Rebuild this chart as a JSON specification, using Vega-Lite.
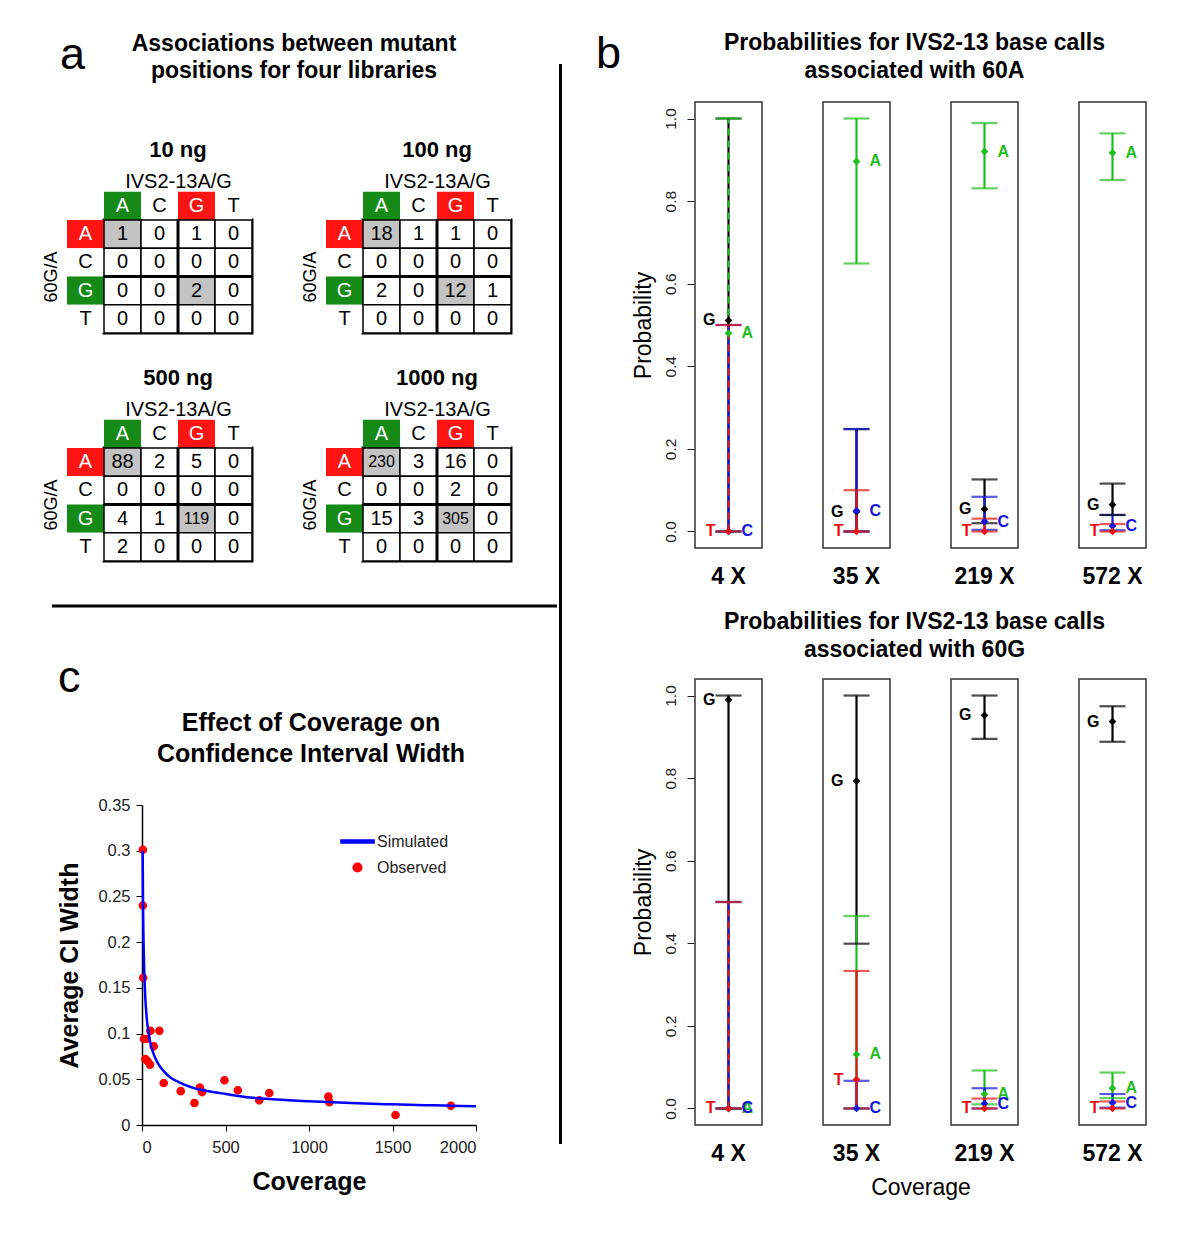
{
"$schema":"https://vega.github.io/schema/vega-lite/v6.json",
"background":"white",
"padding":{"left":40,"top":31,"right":10,"bottom":10},
"config":{
 "font":"Liberation Sans",
 "view":{"stroke":null},
 "axis":{"grid":false,"labelColor":"#222222","titleColor":"black","domainColor":"black","tickColor":"black","labelFont":"Liberation Sans","titleFont":"Liberation Sans"},
 "header":{"labelFont":"Liberation Sans","titleFont":"Liberation Sans","labelColor":"black","titleColor":"black"},
 "title":{"font":"Liberation Sans","color":"black"},
 "legend":{"labelFont":"Liberation Sans","labelColor":"#222222"},
 "text":{"font":"Liberation Sans"}
},
"datasets":{
 "cells":[
  {"lib":"10 ng","row":"A","col":"A","n":1},{"lib":"10 ng","row":"A","col":"C","n":0},{"lib":"10 ng","row":"A","col":"G","n":1},{"lib":"10 ng","row":"A","col":"T","n":0},
  {"lib":"10 ng","row":"C","col":"A","n":0},{"lib":"10 ng","row":"C","col":"C","n":0},{"lib":"10 ng","row":"C","col":"G","n":0},{"lib":"10 ng","row":"C","col":"T","n":0},
  {"lib":"10 ng","row":"G","col":"A","n":0},{"lib":"10 ng","row":"G","col":"C","n":0},{"lib":"10 ng","row":"G","col":"G","n":2},{"lib":"10 ng","row":"G","col":"T","n":0},
  {"lib":"10 ng","row":"T","col":"A","n":0},{"lib":"10 ng","row":"T","col":"C","n":0},{"lib":"10 ng","row":"T","col":"G","n":0},{"lib":"10 ng","row":"T","col":"T","n":0},
  {"lib":"100 ng","row":"A","col":"A","n":18},{"lib":"100 ng","row":"A","col":"C","n":1},{"lib":"100 ng","row":"A","col":"G","n":1},{"lib":"100 ng","row":"A","col":"T","n":0},
  {"lib":"100 ng","row":"C","col":"A","n":0},{"lib":"100 ng","row":"C","col":"C","n":0},{"lib":"100 ng","row":"C","col":"G","n":0},{"lib":"100 ng","row":"C","col":"T","n":0},
  {"lib":"100 ng","row":"G","col":"A","n":2},{"lib":"100 ng","row":"G","col":"C","n":0},{"lib":"100 ng","row":"G","col":"G","n":12},{"lib":"100 ng","row":"G","col":"T","n":1},
  {"lib":"100 ng","row":"T","col":"A","n":0},{"lib":"100 ng","row":"T","col":"C","n":0},{"lib":"100 ng","row":"T","col":"G","n":0},{"lib":"100 ng","row":"T","col":"T","n":0},
  {"lib":"500 ng","row":"A","col":"A","n":88},{"lib":"500 ng","row":"A","col":"C","n":2},{"lib":"500 ng","row":"A","col":"G","n":5},{"lib":"500 ng","row":"A","col":"T","n":0},
  {"lib":"500 ng","row":"C","col":"A","n":0},{"lib":"500 ng","row":"C","col":"C","n":0},{"lib":"500 ng","row":"C","col":"G","n":0},{"lib":"500 ng","row":"C","col":"T","n":0},
  {"lib":"500 ng","row":"G","col":"A","n":4},{"lib":"500 ng","row":"G","col":"C","n":1},{"lib":"500 ng","row":"G","col":"G","n":119},{"lib":"500 ng","row":"G","col":"T","n":0},
  {"lib":"500 ng","row":"T","col":"A","n":2},{"lib":"500 ng","row":"T","col":"C","n":0},{"lib":"500 ng","row":"T","col":"G","n":0},{"lib":"500 ng","row":"T","col":"T","n":0},
  {"lib":"1000 ng","row":"A","col":"A","n":230},{"lib":"1000 ng","row":"A","col":"C","n":3},{"lib":"1000 ng","row":"A","col":"G","n":16},{"lib":"1000 ng","row":"A","col":"T","n":0},
  {"lib":"1000 ng","row":"C","col":"A","n":0},{"lib":"1000 ng","row":"C","col":"C","n":0},{"lib":"1000 ng","row":"C","col":"G","n":2},{"lib":"1000 ng","row":"C","col":"T","n":0},
  {"lib":"1000 ng","row":"G","col":"A","n":15},{"lib":"1000 ng","row":"G","col":"C","n":3},{"lib":"1000 ng","row":"G","col":"G","n":305},{"lib":"1000 ng","row":"G","col":"T","n":0},
  {"lib":"1000 ng","row":"T","col":"A","n":0},{"lib":"1000 ng","row":"T","col":"C","n":0},{"lib":"1000 ng","row":"T","col":"G","n":0},{"lib":"1000 ng","row":"T","col":"T","n":0}
 ],
 "probs":[
  {"set":"60A","cov":"4 X","base":"G","est":0.511,"lo":0,"hi":1},
  {"set":"60A","cov":"4 X","base":"A","est":0.48,"lo":0,"hi":1},
  {"set":"60A","cov":"4 X","base":"C","est":0,"lo":0,"hi":0.5},
  {"set":"60A","cov":"4 X","base":"T","est":0,"lo":0,"hi":0.5},
  {"set":"60A","cov":"35 X","base":"G","est":0.048,"lo":0,"hi":0.248},
  {"set":"60A","cov":"35 X","base":"A","est":0.896,"lo":0.649,"hi":1},
  {"set":"60A","cov":"35 X","base":"C","est":0.05,"lo":0,"hi":0.248},
  {"set":"60A","cov":"35 X","base":"T","est":0,"lo":0,"hi":0.1},
  {"set":"60A","cov":"219 X","base":"G","est":0.054,"lo":0.02,"hi":0.126},
  {"set":"60A","cov":"219 X","base":"A","est":0.92,"lo":0.831,"hi":0.989},
  {"set":"60A","cov":"219 X","base":"C","est":0.024,"lo":0.004,"hi":0.084},
  {"set":"60A","cov":"219 X","base":"T","est":0,"lo":0,"hi":0.031},
  {"set":"60A","cov":"572 X","base":"G","est":0.065,"lo":0.04,"hi":0.116},
  {"set":"60A","cov":"572 X","base":"A","est":0.917,"lo":0.851,"hi":0.964},
  {"set":"60A","cov":"572 X","base":"C","est":0.013,"lo":0.003,"hi":0.04},
  {"set":"60A","cov":"572 X","base":"T","est":0,"lo":0,"hi":0.018},
  {"set":"60G","cov":"4 X","base":"G","est":0.99,"lo":0,"hi":1},
  {"set":"60G","cov":"4 X","base":"A","est":0,"lo":0,"hi":0.5},
  {"set":"60G","cov":"4 X","base":"C","est":0,"lo":0,"hi":0.5},
  {"set":"60G","cov":"4 X","base":"T","est":0,"lo":0,"hi":0.5},
  {"set":"60G","cov":"35 X","base":"G","est":0.793,"lo":0.399,"hi":1},
  {"set":"60G","cov":"35 X","base":"A","est":0.131,"lo":0,"hi":0.466},
  {"set":"60G","cov":"35 X","base":"C","est":0,"lo":0,"hi":0.067},
  {"set":"60G","cov":"35 X","base":"T","est":0.07,"lo":0,"hi":0.333},
  {"set":"60G","cov":"219 X","base":"G","est":0.952,"lo":0.895,"hi":1},
  {"set":"60G","cov":"219 X","base":"A","est":0.035,"lo":0.01,"hi":0.092},
  {"set":"60G","cov":"219 X","base":"C","est":0.012,"lo":0,"hi":0.049},
  {"set":"60G","cov":"219 X","base":"T","est":0,"lo":0,"hi":0.024},
  {"set":"60G","cov":"572 X","base":"G","est":0.937,"lo":0.888,"hi":0.974},
  {"set":"60G","cov":"572 X","base":"A","est":0.049,"lo":0.025,"hi":0.087},
  {"set":"60G","cov":"572 X","base":"C","est":0.014,"lo":0.002,"hi":0.035},
  {"set":"60G","cov":"572 X","base":"T","est":0,"lo":0,"hi":0.017}
 ],
 "obs":[
  {"series":"Observed","coverage":5,"width":0.301},{"series":"Observed","coverage":5,"width":0.24},{"series":"Observed","coverage":7,"width":0.161},
  {"series":"Observed","coverage":12,"width":0.094},{"series":"Observed","coverage":26,"width":0.094},{"series":"Observed","coverage":50,"width":0.103},
  {"series":"Observed","coverage":104,"width":0.103},{"series":"Observed","coverage":70,"width":0.086},{"series":"Observed","coverage":20,"width":0.072},
  {"series":"Observed","coverage":32,"width":0.07},{"series":"Observed","coverage":48,"width":0.066},{"series":"Observed","coverage":130,"width":0.046},
  {"series":"Observed","coverage":232,"width":0.037},{"series":"Observed","coverage":314,"width":0.024},{"series":"Observed","coverage":346,"width":0.041},
  {"series":"Observed","coverage":360,"width":0.036},{"series":"Observed","coverage":494,"width":0.049},{"series":"Observed","coverage":574,"width":0.038},
  {"series":"Observed","coverage":702,"width":0.027},{"series":"Observed","coverage":762,"width":0.035},{"series":"Observed","coverage":1116,"width":0.031},
  {"series":"Observed","coverage":1122,"width":0.025},{"series":"Observed","coverage":1518,"width":0.011},{"series":"Observed","coverage":1850,"width":0.021}
 ],
 "sim":[
  {"series":"Simulated","coverage":4,"width":0.3},{"series":"Simulated","coverage":6,"width":0.245},{"series":"Simulated","coverage":8,"width":0.215},
  {"series":"Simulated","coverage":10,"width":0.195},{"series":"Simulated","coverage":13,"width":0.17},{"series":"Simulated","coverage":16,"width":0.155},
  {"series":"Simulated","coverage":20,"width":0.138},{"series":"Simulated","coverage":25,"width":0.125},{"series":"Simulated","coverage":30,"width":0.114},
  {"series":"Simulated","coverage":40,"width":0.1},{"series":"Simulated","coverage":50,"width":0.09},{"series":"Simulated","coverage":65,"width":0.08},
  {"series":"Simulated","coverage":80,"width":0.073},{"series":"Simulated","coverage":100,"width":0.066},{"series":"Simulated","coverage":130,"width":0.059},
  {"series":"Simulated","coverage":170,"width":0.052},{"series":"Simulated","coverage":220,"width":0.047},{"series":"Simulated","coverage":300,"width":0.041},
  {"series":"Simulated","coverage":400,"width":0.037},{"series":"Simulated","coverage":500,"width":0.034},{"series":"Simulated","coverage":650,"width":0.03},
  {"series":"Simulated","coverage":800,"width":0.028},{"series":"Simulated","coverage":1000,"width":0.026},{"series":"Simulated","coverage":1250,"width":0.024},
  {"series":"Simulated","coverage":1500,"width":0.0226},{"series":"Simulated","coverage":1750,"width":0.0215},{"series":"Simulated","coverage":2000,"width":0.0206}
 ]
},
"resolve":{"scale":{"color":"independent","shape":"independent","size":"independent"},"legend":{"color":"independent","shape":"independent","size":"independent"}},
"spacing":0,
"hconcat":[
 {"spacing":42,
  "resolve":{"scale":{"color":"independent","shape":"independent","size":"independent"},"legend":{"color":"independent","shape":"independent","size":"independent"}},
  "vconcat":[
  {"title":{"text":"a","orient":"left","anchor":"end","angle":0,"align":"left","baseline":"top","fontSize":45,"fontWeight":"normal","offset":19},
   "vconcat":[
    {"width":380,"height":1,
     "title":{"text":["Associations between mutant","positions for four libraries"],"fontSize":23,"fontWeight":"bold","lineHeight":27,"anchor":"middle","frame":"group","offset":6},
     "data":{"values":[{}]},
     "mark":{"type":"point","opacity":0},
     "encoding":{}}
   ]},
  {"spacing":40,
   "resolve":{"scale":{"color":"independent","shape":"independent","size":"independent"},"legend":{"color":"independent","shape":"independent","size":"independent"}},
   "vconcat":[
    {"data":{"name":"cells"},
     "facet":{"field":"lib","type":"nominal","sort":["10 ng","100 ng","500 ng","1000 ng"],"title":null,"header":{"labelFontSize":22,"labelFontWeight":"bold","labelPadding":9}},
     "columns":2,
     "spacing":{"row":29,"column":44},
     "resolve":{"axis":{"x":"independent","y":"independent"}},
     "spec":{
      "width":148,"height":113,
      "view":{"stroke":"black","strokeWidth":3},
      "layer":[
       {"transform":[{"filter":"datum.row === 'A'"}],
        "mark":{"type":"rect","yOffset":-28.25},
        "encoding":{
         "x":{"field":"col","type":"nominal","scale":{"domain":["A","C","G","T"],"paddingInner":0,"paddingOuter":0},"axis":{"orient":"top","labels":false,"ticks":false,"domain":false,"title":"IVS2-13A/G","titleFontSize":20,"titleFontWeight":"normal","titlePadding":29}},
         "y":{"field":"row","type":"nominal","scale":{"domain":["A","C","G","T"],"paddingInner":0,"paddingOuter":0},"axis":{"labels":false,"ticks":false,"domain":false,"title":"60G/A","titleFontSize":18,"titleFontWeight":"normal","titlePadding":44}},
         "color":{"condition":[{"test":"datum.col === 'A'","value":"#168A16"},{"test":"datum.col === 'G'","value":"#FF1414"}],"value":"white"}
        }},
       {"transform":[{"filter":"datum.row === 'A'"}],
        "mark":{"type":"text","yOffset":-28.25,"fontSize":20},
        "encoding":{
         "x":{"field":"col","type":"nominal"},
         "y":{"field":"row","type":"nominal"},
         "text":{"field":"col","type":"nominal"},
         "color":{"condition":{"test":"datum.col === 'A' || datum.col === 'G'","value":"white"},"value":"black"}
        }},
       {"transform":[{"filter":"datum.col === 'A'"}],
        "mark":{"type":"rect","xOffset":-37},
        "encoding":{
         "x":{"field":"col","type":"nominal"},
         "y":{"field":"row","type":"nominal"},
         "color":{"condition":[{"test":"datum.row === 'A'","value":"#FF1414"},{"test":"datum.row === 'G'","value":"#168A16"}],"value":"white"}
        }},
       {"transform":[{"filter":"datum.col === 'A'"}],
        "mark":{"type":"text","xOffset":-37,"fontSize":20},
        "encoding":{
         "x":{"field":"col","type":"nominal"},
         "y":{"field":"row","type":"nominal"},
         "text":{"field":"row","type":"nominal"},
         "color":{"condition":{"test":"datum.row === 'A' || datum.row === 'G'","value":"white"},"value":"black"}
        }},
       {"mark":{"type":"rect","stroke":"black","strokeWidth":1.5},
        "encoding":{
         "x":{"field":"col","type":"nominal"},
         "y":{"field":"row","type":"nominal"},
         "color":{"condition":{"test":"(datum.row === 'A' && datum.col === 'A') || (datum.row === 'G' && datum.col === 'G')","value":"#C3C3C3"},"value":"white"}
        }},
       {"mark":{"type":"text","color":"black"},
        "encoding":{
         "x":{"field":"col","type":"nominal"},
         "y":{"field":"row","type":"nominal"},
         "text":{"field":"n","type":"quantitative"},
         "size":{"field":"n","type":"quantitative","scale":{"type":"threshold","domain":[100],"range":[20,16]},"legend":null}
        }},
       {"transform":[{"filter":"datum.row === 'A' && datum.col === 'A'"}],
        "mark":{"type":"rule","strokeWidth":3,"color":"black"},
        "encoding":{"x":{"datum":"G","type":"nominal","bandPosition":0}}},
       {"transform":[{"filter":"datum.row === 'A' && datum.col === 'A'"}],
        "mark":{"type":"rule","strokeWidth":3,"color":"black"},
        "encoding":{"y":{"datum":"G","type":"nominal","bandPosition":0}}}
      ]
     }
    },
    {"width":453,"height":10,"data":{"values":[{}]},
     "mark":{"type":"rule","strokeWidth":3,"color":"black"},
     "encoding":{
      "x":{"datum":0,"type":"quantitative","scale":{"domain":[0,1],"rangeMin":-52},"axis":null},
      "x2":{"datum":1},
      "y":{"datum":1,"type":"quantitative","scale":{"domain":[0,1]},"axis":null}}},
    {"title":{"text":"c","anchor":"start","fontSize":45,"fontWeight":"normal","offset":10},
     "resolve":{"scale":{"color":"independent","shape":"independent","size":"independent"},"legend":{"color":"independent","shape":"independent","size":"independent"}},
     "vconcat":[
      {"title":{"text":["Effect of Coverage on","Confidence Interval Width"],"fontSize":25,"fontWeight":"bold","lineHeight":31,"anchor":"middle","frame":"group","dx":21,"offset":30},
       "width":372,"height":320,
       "layer":[
        {"data":{"name":"obs"},
         "mark":{"type":"point","filled":true,"size":1100,"opacity":1},
         "encoding":{
          "x":{"field":"coverage","type":"quantitative","scale":{"domain":[0,2000],"nice":false,"rangeMin":38},"axis":{"values":[0,500,1000,1500,2000],"format":"d","labelFontSize":16.5,"title":"Coverage","titleFontSize":25,"titleFontWeight":"bold","tickSize":6,"labelPadding":8,"titlePadding":14,"domainWidth":1.5}},
          "y":{"field":"width","type":"quantitative","scale":{"domain":[0,0.35],"nice":false},"axis":{"values":[0,0.05,0.1,0.15,0.2,0.25,0.3,0.35],"format":"~g","offset":-38,"labelFontSize":16.5,"title":"Average CI Width","titleFontSize":25,"titleFontWeight":"bold","tickSize":6,"labelPadding":6,"titlePadding":15,"domainWidth":1.5}},
          "color":{"field":"series","type":"nominal","scale":{"domain":["Simulated","Observed"],"range":["#0000FF","#FF0000"]},
           "legend":{"title":null,"orient":"none","legendX":236,"legendY":19,"padding":0,"labelFontSize":16,"symbolSize":1100,"rowPadding":-2,"labelOffset":2,"symbolOpacity":1}},
          "shape":{"field":"series","type":"nominal","scale":{"domain":["Simulated","Observed"],"range":["M-1,-0.09H1V0.09H-1Z","M0.26,0A0.26,0.26,0,1,1,-0.26,0A0.26,0.26,0,1,1,0.26,0Z"]},
           "legend":{"title":null,"orient":"none","legendX":236,"legendY":19,"padding":0,"labelFontSize":16,"symbolSize":1100,"rowPadding":-2,"labelOffset":2,"symbolOpacity":1}}
         }},
        {"data":{"name":"sim"},
         "mark":{"type":"line","strokeWidth":2.5,"interpolate":"monotone"},
         "encoding":{
          "x":{"field":"coverage","type":"quantitative"},
          "y":{"field":"width","type":"quantitative"},
          "color":{"field":"series","type":"nominal","scale":{"domain":["Simulated","Observed"],"range":["#0000FF","#FF0000"]}}
         }}
       ]}
     ]}
  ]}
 ]},
 {"spacing":33,"hconcat":[
  {"width":1,"height":1053,
   "data":{"values":[{}]},
   "mark":{"type":"rule","strokeWidth":3,"color":"black"},
   "encoding":{"y":{"datum":0,"type":"quantitative","scale":{"domain":[0,1]},"axis":null},"y2":{"datum":1.0256}}},
  {"spacing":21,"vconcat":[
   {"spacing":6,"vconcat":[
    {"title":{"text":"b","orient":"left","anchor":"end","angle":0,"align":"left","baseline":"top","fontSize":45,"fontWeight":"normal","offset":74},
     "vconcat":[
      {"width":445,"height":1,
       "title":{"text":["Probabilities for IVS2-13 base calls","associated with 60A"],"fontSize":23,"fontWeight":"bold","lineHeight":28,"anchor":"middle","frame":"group","dx":-3,"offset":6},
       "data":{"values":[{}]},
       "mark":{"type":"point","opacity":0},
       "encoding":{}}
     ]},
    {"data":{"name":"probs"},
     "transform":[{"filter":"datum.set === '60A'"}],
     "facet":{"column":{"field":"cov","type":"nominal","sort":["4 X","35 X","219 X","572 X"],"title":null,"header":{"labelOrient":"bottom","labelFontSize":23,"labelFontWeight":"bold","labelPadding":17}}},
     "spacing":{"column":59},
     "spec":{
      "width":67,"height":446,
      "view":{"stroke":"#333333","strokeWidth":1.5},
      "layer":[
       {"mark":{"type":"rule","strokeWidth":2.2},
        "encoding":{
         "y":{"field":"lo","type":"quantitative","title":"Probability","scale":{"domain":[-0.04,1.04],"nice":false,"zero":false},"axis":{"values":[0,0.2,0.4,0.6,0.8,1],"format":".1f","labelAngle":270,"labelAlign":"center","labelBaseline":"bottom","labelFontSize":15.5,"labelPadding":9,"tickSize":7,"tickColor":"#222222","domain":false,"titleFontSize":23,"titleFontWeight":"normal","titlePadding":8}},
         "y2":{"field":"hi"},
         "color":{"field":"base","type":"nominal","scale":{"domain":["A","C","G","T"],"range":["#1EBE1E","#1414DC","#000000","#E81414"]},"legend":null},
         "strokeDash":{"condition":{"test":"datum.cov === '4 X' && (datum.base === 'A' || datum.base === 'T')","value":[7,5]},"value":[3000,1]}
        }},
       {"mark":{"type":"tick","size":26,"thickness":2.2},
        "encoding":{"y":{"field":"hi","type":"quantitative","title":"Probability"},"color":{"field":"base","type":"nominal","legend":null}}},
       {"mark":{"type":"tick","size":26,"thickness":2.2},
        "encoding":{"y":{"field":"lo","type":"quantitative","title":"Probability"},"color":{"field":"base","type":"nominal","legend":null}}},
       {"mark":{"type":"point","shape":"diamond","filled":true,"size":60,"opacity":1},
        "encoding":{"y":{"field":"est","type":"quantitative","title":"Probability"},"color":{"field":"base","type":"nominal","legend":null}}},
       {"transform":[{"filter":"datum.base === 'G' || datum.base === 'T'"}],
        "mark":{"type":"text","dx":-13,"align":"right","fontSize":16,"fontWeight":"bold"},
        "encoding":{"y":{"field":"est","type":"quantitative","title":"Probability"},"text":{"field":"base","type":"nominal"},"color":{"field":"base","type":"nominal","legend":null}}},
       {"transform":[{"filter":"datum.base === 'A' || datum.base === 'C'"}],
        "mark":{"type":"text","dx":13,"align":"left","fontSize":16,"fontWeight":"bold"},
        "encoding":{"y":{"field":"est","type":"quantitative","title":"Probability"},"text":{"field":"base","type":"nominal"},"color":{"field":"base","type":"nominal","legend":null}}}
      ]
     }}
   ]},
   {"spacing":4,"vconcat":[
    {"width":445,"height":1,
     "title":{"text":["Probabilities for IVS2-13 base calls","associated with 60G"],"fontSize":23,"fontWeight":"bold","lineHeight":28,"anchor":"middle","frame":"group","dx":-3,"offset":6},
     "data":{"values":[{}]},
     "mark":{"type":"point","opacity":0},
     "encoding":{}},
    {"data":{"name":"probs"},
     "transform":[{"filter":"datum.set === '60G'"}],
     "facet":{"column":{"field":"cov","type":"nominal","sort":["4 X","35 X","219 X","572 X"],"title":"Coverage","header":{"labelOrient":"bottom","labelFontSize":23,"labelFontWeight":"bold","labelPadding":17,"titleOrient":"bottom","titleFontSize":23,"titleFontWeight":"normal","titlePadding":1}}},
     "spacing":{"column":59},
     "spec":{
      "width":67,"height":446,
      "view":{"stroke":"#333333","strokeWidth":1.5},
      "layer":[
       {"mark":{"type":"rule","strokeWidth":2.2},
        "encoding":{
         "y":{"field":"lo","type":"quantitative","title":"Probability","scale":{"domain":[-0.04,1.04],"nice":false,"zero":false},"axis":{"values":[0,0.2,0.4,0.6,0.8,1],"format":".1f","labelAngle":270,"labelAlign":"center","labelBaseline":"bottom","labelFontSize":15.5,"labelPadding":9,"tickSize":7,"tickColor":"#222222","domain":false,"titleFontSize":23,"titleFontWeight":"normal","titlePadding":8}},
         "y2":{"field":"hi"},
         "color":{"field":"base","type":"nominal","scale":{"domain":["A","C","G","T"],"range":["#1EBE1E","#1414DC","#000000","#E81414"]},"legend":null},
         "strokeDash":{"condition":{"test":"datum.cov === '4 X' && (datum.base === 'A' || datum.base === 'T')","value":[7,5]},"value":[3000,1]}
        }},
       {"mark":{"type":"tick","size":26,"thickness":2.2},
        "encoding":{"y":{"field":"hi","type":"quantitative","title":"Probability"},"color":{"field":"base","type":"nominal","legend":null}}},
       {"mark":{"type":"tick","size":26,"thickness":2.2},
        "encoding":{"y":{"field":"lo","type":"quantitative","title":"Probability"},"color":{"field":"base","type":"nominal","legend":null}}},
       {"mark":{"type":"point","shape":"diamond","filled":true,"size":60,"opacity":1},
        "encoding":{"y":{"field":"est","type":"quantitative","title":"Probability"},"color":{"field":"base","type":"nominal","legend":null}}},
       {"transform":[{"filter":"datum.base === 'G' || datum.base === 'T'"}],
        "mark":{"type":"text","dx":-13,"align":"right","fontSize":16,"fontWeight":"bold"},
        "encoding":{"y":{"field":"est","type":"quantitative","title":"Probability"},"text":{"field":"base","type":"nominal"},"color":{"field":"base","type":"nominal","legend":null}}},
       {"transform":[{"filter":"datum.base === 'A' || datum.base === 'C'"}],
        "mark":{"type":"text","dx":13,"align":"left","fontSize":16,"fontWeight":"bold"},
        "encoding":{"y":{"field":"est","type":"quantitative","title":"Probability"},"text":{"field":"base","type":"nominal"},"color":{"field":"base","type":"nominal","legend":null}}}
      ]
     }}
   ]}
  ]}
 ]}
]
}
